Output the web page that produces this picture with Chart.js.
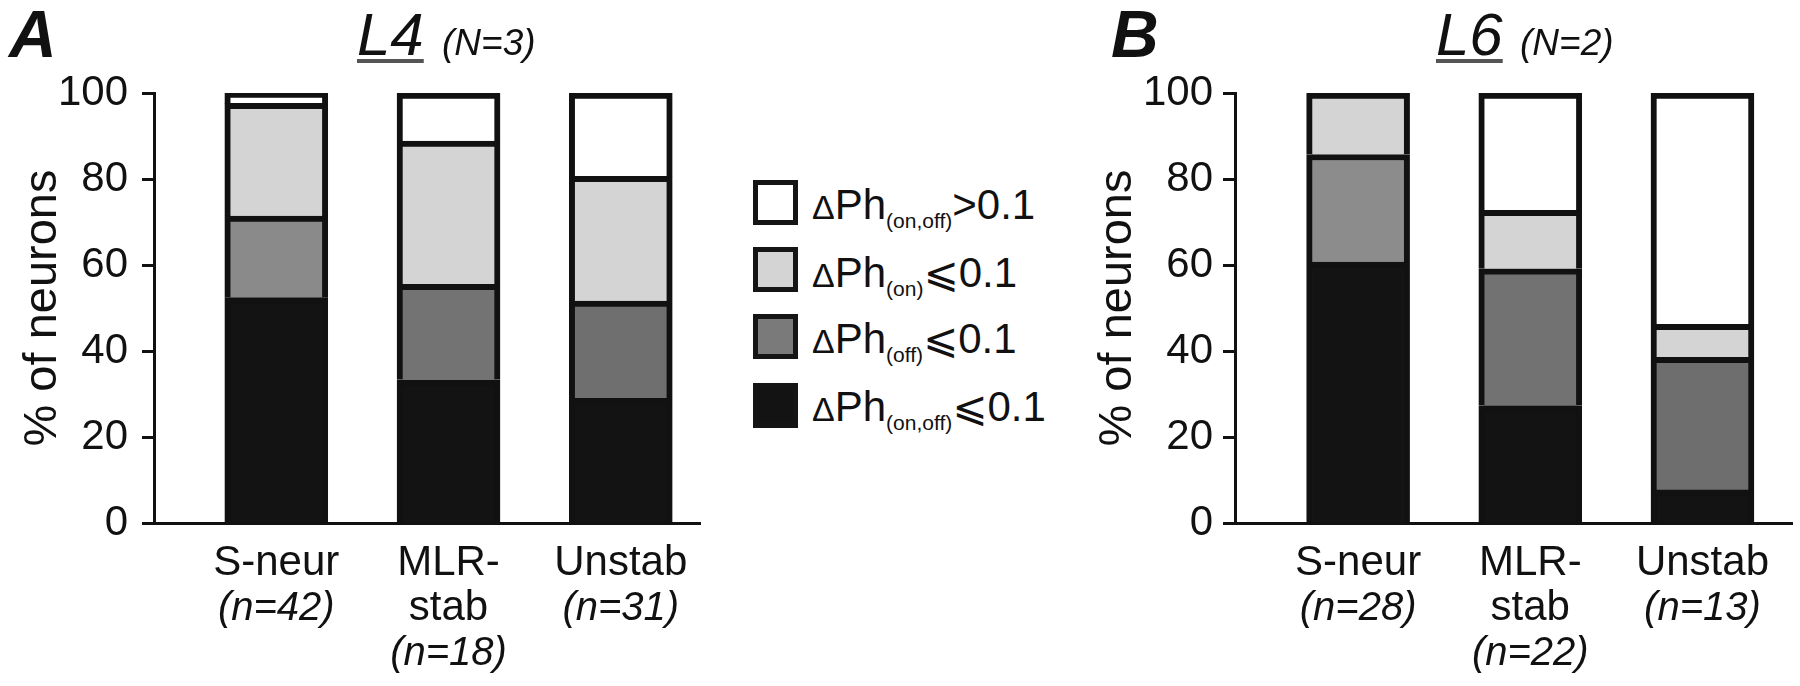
<!DOCTYPE html>
<html>
<head>
<meta charset="utf-8">
<script src="https://cdn.jsdelivr.net/npm/chart.js@4/dist/chart.umd.min.js"></script>
<style>
  html, body { margin: 0; padding: 0; background: #fff; }
  body { width: 1800px; height: 686px; position: relative; overflow: hidden;
         font-family: "Liberation Sans", Arial, "DejaVu Sans", sans-serif; color: #111; }
  canvas { position: absolute; top: 0; }
  .t { position: absolute; white-space: nowrap; line-height: 1; }
  .panel { font-size: 66px; font-weight: bold; font-style: italic; }
  .layer { font-size: 60px; font-style: italic; text-decoration: underline;
           text-decoration-color: #555; text-decoration-thickness: 4px; text-underline-offset: 4px; }
  .nn { font-size: 37px; font-style: italic; }
  .box { position: absolute; left: 753px; width: 45px; height: 45px;
         border: 5px solid #151515; box-sizing: border-box; }
  .lg { font-size: 42px; left: 812px; }
  .lg .d { font-size: 34px; }
  .lg .s { font-size: 21px; vertical-align: -9px; }
</style>
</head>
<body>
<canvas id="chartA" width="720" height="686" style="left:0"></canvas>
<canvas id="chartB" width="720" height="686" style="left:1080px"></canvas>

<div class="t panel" style="left:9px; top:1px">A</div>
<div class="t layer" style="left:357px; top:5px">L4</div>
<div class="t nn" style="left:442px; top:24px">(N=3)</div>

<div class="t panel" style="left:1111px; top:1px">B</div>
<div class="t layer" style="left:1436px; top:5px">L6</div>
<div class="t nn" style="left:1520px; top:24px">(N=2)</div>

<!-- legend -->
<div class="box" style="top:180px; background:#fff"></div>
<div class="box" style="top:247px; background:#d4d4d4"></div>
<div class="box" style="top:314px; background:#7a7a7a"></div>
<div class="box" style="top:383px; background:#131313"></div>
<div class="t lg" style="top:184px"><span class="d">Δ</span>Ph<span class="s">(on,off)</span>&gt;0.1</div>
<div class="t lg" style="top:252px"><span class="d">Δ</span>Ph<span class="s">(on)</span>⩽0.1</div>
<div class="t lg" style="top:318px"><span class="d">Δ</span>Ph<span class="s">(off)</span>⩽0.1</div>
<div class="t lg" style="top:386px"><span class="d">Δ</span>Ph<span class="s">(on,off)</span>⩽0.1</div>

<script>
const categories = [["S-neur"], ["MLR-", "stab"], ["Unstab"]];
const countsL4 = ["(n=42)", "(n=18)", "(n=31)"];
const countsL6 = ["(n=28)", "(n=22)", "(n=13)"];
const yTicks = [0, 20, 40, 60, 80, 100];

// % of neurons, stacked bottom -> top
const l4Both = [52.4, 33.3, 29.0];   // ΔPh(on,off) ≤ 0.1
const l4Off  = [19.0, 22.2, 22.6];   // ΔPh(off) ≤ 0.1
const l4On   = [26.2, 33.3, 29.0];   // ΔPh(on) ≤ 0.1
const l4None = [2.4, 11.2, 19.4];    // ΔPh(on,off) > 0.1

const l6Both = [60.7, 27.3, 7.7];
const l6Off  = [25.0, 31.8, 30.8];
const l6On   = [14.3, 13.6, 7.7];
const l6None = [0.0, 27.3, 53.8];

const FONT = '"Liberation Sans", Arial, sans-serif';
const INK = "#111";

// category labels under the bars, second/third line with italic n
const xLabels = {
    id: "xLabels",
    afterDraw(chart, args, opts) {
        const { ctx, chartArea } = chart;
        const x = chart.scales.x;
        ctx.save();
        ctx.fillStyle = INK;
        ctx.textAlign = "center";
        ctx.textBaseline = "alphabetic";
        opts.cats.forEach((lines, i) => {
            const px = x.getPixelForValue(i);
            let y = chartArea.bottom + 52;
            ctx.font = "42px " + FONT;
            lines.forEach(t => { ctx.fillText(t, px, y); y += 45; });
            ctx.font = "italic 40px " + FONT;
            ctx.fillText(opts.counts[i], px, y);
        });
        ctx.restore();
    }
};

const toPoints = (arr) => arr.map((v, i) => ({ x: i, y: v }));

const makeChart = (id, sets, counts, cfg) => {
    const [both, off, on, none] = sets;
    const common = { borderColor: INK, borderWidth: 6, barThickness: 103 };
    new Chart(document.getElementById(id), {
        type: "bar",
        data: {
            datasets: [
                { label: "ΔPh(on,off)≤0.1", data: toPoints(both), backgroundColor: "#131313", ...common },
                { label: "ΔPh(off)≤0.1", data: toPoints(off), backgroundColor: cfg.offColors, ...common },
                { label: "ΔPh(on)≤0.1", data: toPoints(on), backgroundColor: "#d4d4d4", ...common },
                { label: "ΔPh(on,off)>0.1", data: toPoints(none), backgroundColor: "#ffffff", ...common }
            ]
        },
        options: {
            responsive: false,
            animation: false,
            devicePixelRatio: 1,
            layout: { padding: { top: 93, right: cfg.padRight, left: 0, bottom: 0 } },
            plugins: {
                legend: { display: false },
                tooltip: { enabled: false },
                xLabels: { cats: categories, counts }
            },
            scales: {
                x: {
                    type: "linear",
                    stacked: true,
                    bounds: "data",
                    offset: false,
                    min: cfg.xMin,
                    max: cfg.xMax,
                    ticks: { display: false },
                    grid: { display: false },
                    border: { display: true, color: INK, width: 3 },
                    afterDataLimits: (s) => { s.min = cfg.xMin; s.max = cfg.xMax; },
                    afterBuildTicks: (s) => { s.min = cfg.xMin; s.max = cfg.xMax; },
                    afterFit: (s) => { s.height = 163; }
                },
                y: {
                    stacked: true,
                    min: 0,
                    max: 100,
                    afterBuildTicks: (s) => { s.ticks = yTicks.map(v => ({ value: v })); },
                    ticks: { color: INK, font: { size: 42, family: FONT }, padding: cfg.tickPad },
                    grid: { drawOnChartArea: false, drawTicks: true, tickLength: 12, tickWidth: 3, tickColor: INK },
                    border: { display: true, color: INK, width: 3 },
                    title: {
                        display: true,
                        text: "% of neurons",
                        color: INK,
                        font: { size: 47, family: FONT },
                        padding: { top: cfg.titlePad, bottom: 0 }
                    },
                    afterFit: (s) => { s.width = cfg.axisX; }
                }
            }
        },
        plugins: [xLabels]
    });
};

makeChart("chartA", [l4Both, l4Off, l4On, l4None], countsL4, {
    axisX: 154, padRight: 20, xMin: -0.71, xMax: 2.46, tickPad: 14, titlePad: 15,
    offColors: ["#8a8a8a", "#737373", "#6f6f6f"]
});
makeChart("chartB", [l6Both, l6Off, l6On, l6None], countsL6, {
    axisX: 155, padRight: 8, xMin: -0.715, xMax: 2.52, tickPad: 10, titlePad: 10,
    offColors: ["#8c8c8c", "#727272", "#6e6e6e"]
});
</script>
</body>
</html>
